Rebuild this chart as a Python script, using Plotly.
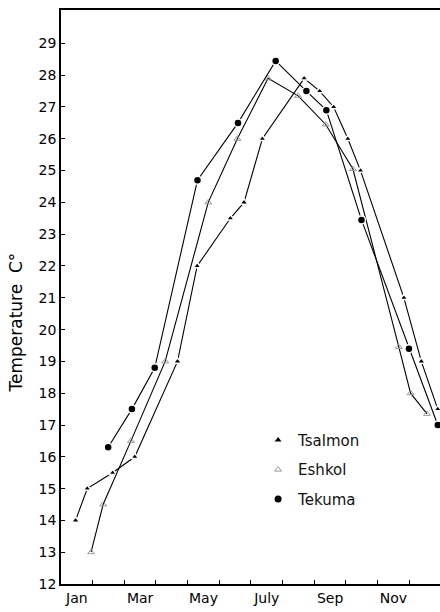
import plotly.graph_objects as go

# x in months from start of January (0 = Jan 1, 12 = Dec 31)
month_labels = ["Jan", "Mar", "May", "July", "Sep", "Nov"]
month_label_pos = [0.5, 2.5, 4.5, 6.5, 8.5, 10.5]
month_bounds = [1, 2, 3, 4, 5, 6, 7, 8, 9, 10, 11]
y_ticks = list(range(12, 30))

tsalmon_t = [0.46, 0.83, 1.63, 2.33, 3.68, 4.30, 5.35, 5.78, 6.36, 7.68, 8.17, 8.61, 9.06, 9.46, 10.83, 11.38, 11.90]
tsalmon_v = [14.0, 15.0, 15.5, 16.0, 19.0, 22.0, 23.5, 24.0, 26.0, 27.9, 27.5, 27.0, 26.0, 25.0, 21.0, 19.0, 17.5]

eshkol_t = [0.95, 1.33, 2.21, 3.29, 4.65, 5.57, 6.54, 7.49, 8.36, 9.22, 10.67, 11.04, 11.56]
eshkol_v = [13.0, 14.5, 16.5, 19.0, 24.0, 26.0, 27.9, 27.35, 26.45, 25.05, 19.45, 18.0, 17.35]

tekuma_t = [1.49, 2.24, 2.96, 4.31, 5.59, 6.78, 7.75, 8.38, 9.49, 10.99, 11.90]
tekuma_v = [16.3, 17.5, 18.8, 24.7, 26.5, 28.45, 27.5, 26.9, 23.45, 19.4, 17.0]

FONT = "DejaVu Sans, Liberation Sans, sans-serif"

series = [
    ("Tsalmon", tsalmon_t, tsalmon_v,
     dict(symbol="triangle-up", size=7, color="black", line=dict(color="white", width=1.5)),
     dict(symbol="triangle-up", size=6, color="black")),
    ("Eshkol", eshkol_t, eshkol_v,
     dict(symbol="triangle-up-open", size=6, color="#9a9a9a", line=dict(color="#9a9a9a", width=1)),
     dict(symbol="triangle-up-open", size=6, color="#9a9a9a", line=dict(color="#9a9a9a", width=1))),
    ("Tekuma", tekuma_t, tekuma_v,
     dict(symbol="circle", size=8, color="black", line=dict(color="white", width=1.5)),
     dict(symbol="circle", size=7, color="black")),
]

fig = go.Figure()
for name, t, v, mk, lmk in series:
    fig.add_trace(go.Scatter(
        x=t, y=v, mode="lines+markers", name=name, showlegend=False,
        line=dict(color="black", width=1.1), marker=mk, cliponaxis=False,
    ))
for name, t, v, mk, lmk in series:
    fig.add_trace(go.Scatter(
        x=[None], y=[None], mode="markers", name=name, legendgroup=name,
        marker=lmk, showlegend=True,
    ))

fig.update_layout(
    width=440, height=612,
    margin=dict(l=61, r=0, t=10, b=28),
    paper_bgcolor="white", plot_bgcolor="white",
    font=dict(family=FONT, size=14, color="black"),
    showlegend=True,
    legend=dict(
        x=0.52, y=0.279, xanchor="left", yanchor="top",
        bgcolor="rgba(0,0,0,0)", borderwidth=0,
        font=dict(family=FONT, size=15, color="#111"),
        tracegroupgap=7, itemwidth=30,
    ),
    xaxis=dict(
        range=[0, 11.97], showgrid=False, zeroline=False,
        showline=True, linecolor="black", linewidth=1.5, mirror=True,
        tickmode="array", tickvals=month_label_pos, ticktext=month_labels,
        ticks="", ticklen=0,
        tickfont=dict(family=FONT, size=14, color="black"),
        minor=dict(tickmode="array", tickvals=month_bounds, ticks="inside",
                   ticklen=4, tickcolor="black", tickwidth=1, showgrid=False),
    ),
    yaxis=dict(
        range=[12, 30.05], showgrid=False, zeroline=False,
        showline=True, linecolor="black", linewidth=1.5,
        tickmode="array", tickvals=y_ticks,
        ticks="inside", ticklen=4, tickcolor="black", tickwidth=1,
        tickfont=dict(family=FONT, size=14, color="black"),
    ),
    annotations=[dict(
        text="Temperature  C°", textangle=-90, xref="paper", yref="paper",
        x=-0.118, y=0.456, xanchor="center", yanchor="middle", showarrow=False,
        font=dict(family=FONT, size=17, color="black"),
    )],
)

fig.write_html("out.html")
